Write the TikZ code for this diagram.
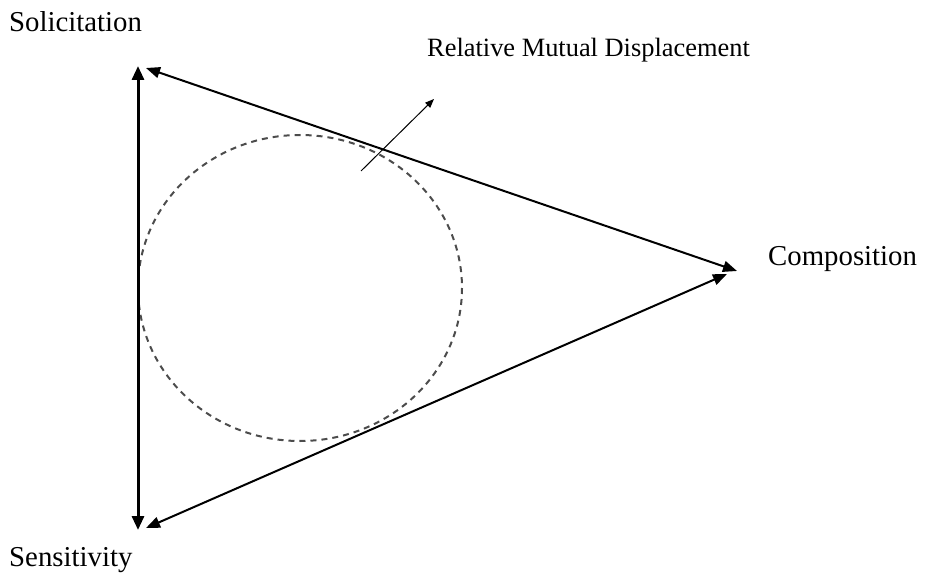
\documentclass[tikz,border=0pt]{standalone}
\usepackage{fontspec}
\setmainfont{Liberation Serif}
\usetikzlibrary{arrows.meta}
\begin{document}
\begin{tikzpicture}[x=1pt,y=-1pt,
  lbl/.style={inner sep=0pt,anchor=base west,font=\fontsize{28.8}{32}\selectfont},
  smalllbl/.style={inner sep=0pt,anchor=base west,font=\fontsize{26.4}{30}\selectfont},
  side/.style={line width=2pt,{Triangle[length=14pt,width=11pt]}-{Triangle[length=14pt,width=11pt]}},
  thickside/.style={line width=3pt,{Triangle[length=14pt,width=12pt]}-{Triangle[length=14pt,width=12pt]}},
  ring/.style={draw=black!70,line width=2pt,dash pattern=on 6pt off 5pt}]
\useasboundingbox (0,0) rectangle (926,580);
\coordinate (T) at (138,66);
\coordinate (B) at (138,530);
\coordinate (Ts) at (146,68);
\coordinate (Bs) at (146,528);
\coordinate (Rt) at (737,271);
\coordinate (Rb) at (727,274);
\draw[ring] (300,288) ellipse[x radius=162,y radius=153];
\draw[thickside] (T) -- (B);
\draw[side] (Ts) -- (Rt);
\draw[side] (Bs) -- (Rb);
\coordinate (a1) at (361,171);
\coordinate (a2) at (434,99);
\draw[line width=1pt,-{Triangle[length=9pt,width=7pt]}] (a1) -- (a2);
\node[lbl] (sol) at (9,32) {Solicitation};
\node[lbl] (sen) at (9,566) {Sensitivity};
\node[lbl] (com) at (768,265) {Composition};
\node[smalllbl] (rmd) at (427,57) {Relative Mutual Displacement};
\end{tikzpicture}
\end{document}
